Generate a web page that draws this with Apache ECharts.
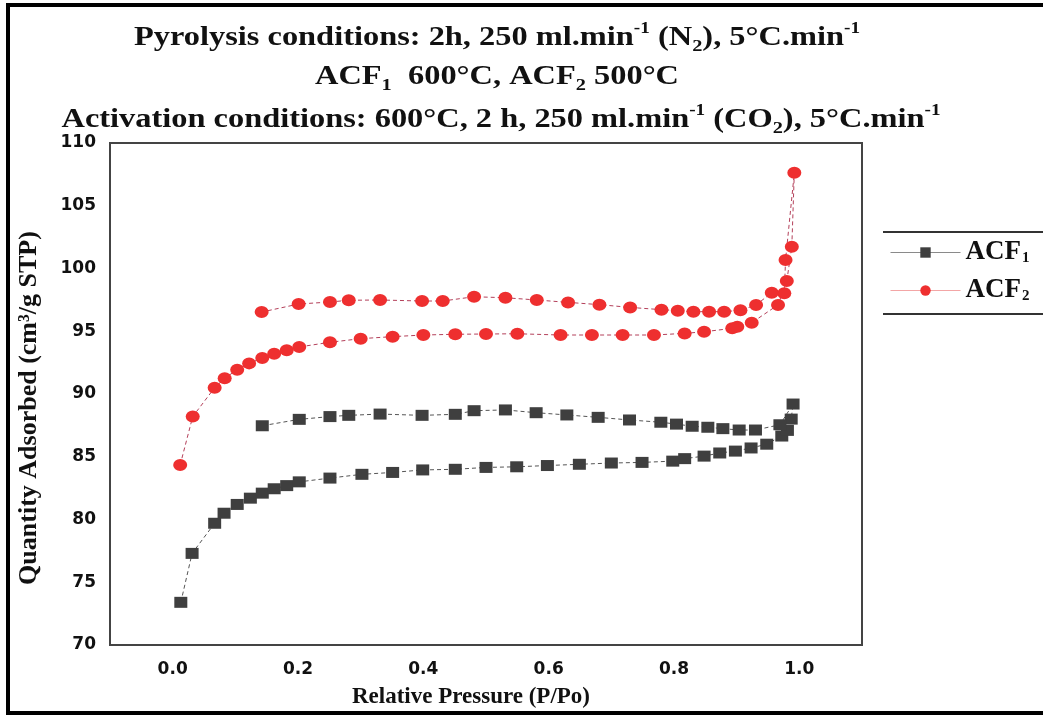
<!DOCTYPE html>
<html>
<head>
<meta charset="utf-8">
<script src="https://cdn.jsdelivr.net/npm/echarts@6/dist/echarts.min.js"></script>
<style>html,body{margin:0;padding:0;background:#fff;}#c{width:1043px;height:715px;}</style>
</head>
<body>
<div id="c"></div>
<script>
// Relative pressure (P/Po) and quantity adsorbed (cm3/g STP), adsorption then desorption branch
const acf1Pressure = [0.013,0.031,0.067,0.082,0.103,0.124,0.143,0.162,0.182,0.202,0.251,0.302,0.351,0.399,0.451,0.500,0.549,0.598,0.649,0.700,0.749,0.798,0.817,0.848,0.873,0.898,0.923,0.948,0.972,0.981,0.987,0.990,
  0.969,0.930,0.904,0.878,0.854,0.829,0.804,0.779,0.729,0.679,0.629,0.580,0.531,0.481,0.451,0.398,0.331,0.281,0.251,0.202,0.143];
const acf1Quantity = [73.4,77.3,79.7,80.5,81.2,81.7,82.1,82.45,82.7,83.0,83.3,83.6,83.75,83.95,84.0,84.15,84.2,84.3,84.4,84.5,84.55,84.65,84.85,85.05,85.3,85.45,85.7,86.0,86.65,87.1,88.0,89.2,
  87.55,87.13,87.13,87.24,87.35,87.43,87.6,87.75,87.93,88.14,88.33,88.51,88.73,88.67,88.38,88.3,88.4,88.3,88.2,87.98,87.47];
const acf2Pressure = [0.012,0.032,0.067,0.083,0.103,0.122,0.143,0.162,0.182,0.202,0.251,0.300,0.351,0.400,0.451,0.500,0.550,0.619,0.669,0.718,0.768,0.817,0.848,0.893,0.901,0.924,0.966,0.980,0.988,0.992,
  0.978,0.976,0.956,0.931,0.906,0.880,0.856,0.831,0.806,0.780,0.730,0.681,0.631,0.581,0.531,0.481,0.431,0.398,0.331,0.281,0.251,0.201,0.142];
const acf2Quantity = [84.35,88.2,90.5,91.25,91.94,92.44,92.87,93.21,93.48,93.75,94.12,94.41,94.57,94.70,94.76,94.78,94.80,94.70,94.70,94.70,94.70,94.83,94.96,95.23,95.36,95.68,97.10,99.0,101.74,107.63,
  100.68,98.02,98.07,97.10,96.67,96.56,96.56,96.56,96.64,96.72,96.90,97.12,97.30,97.49,97.67,97.75,97.41,97.41,97.49,97.47,97.33,97.17,96.53];
const xTicks = [0.0,0.2,0.4,0.6,0.8,1.0];
const seriesNames = ['ACF1','ACF2'];

const pairs = (xs, ys) => xs.map((x, i) => [x, ys[i]]);
const serif = 'Liberation Serif';
const sans = 'DejaVu Sans';

const chart = echarts.init(document.getElementById('c'), null, {renderer: 'canvas'});
const titleRich = {
  sup: {fontSize: 16, fontFamily: serif, fontWeight: 'bold', fill: '#111', verticalAlign: 'top', lineHeight: 16},
  sub: {fontSize: 17, fontFamily: serif, fontWeight: 'bold', fill: '#111', verticalAlign: 'bottom', lineHeight: 17}
};
function titleText(x, y, text) {
  return {
    type: 'text', x: x, y: y, scaleX: 1.2,
    style: {
      text: text, align: 'center', verticalAlign: 'middle',
      fontFamily: serif, fontWeight: 'bold', fontSize: 27, lineHeight: 35, fill: '#111',
      rich: titleRich
    }
  };
}
chart.setOption({
  backgroundColor: '#fff',
  animation: false,
  grid: {left: 110, right: 181, top: 143, bottom: 70, show: true, borderColor: '#444', borderWidth: 2, containLabel: false},
  xAxis: {
    type: 'value', min: -0.1, max: 1.1,
    axisLine: {show: true, onZero: false, lineStyle: {color: '#444', width: 2}},
    axisTick: {show: false},
    splitLine: {show: false},
    axisLabel: {customValues: xTicks, formatter: v => v.toFixed(1), margin: 16,
      fontFamily: sans, fontWeight: 'bold', fontSize: 17, color: '#111'}
  },
  yAxis: {
    type: 'value', min: 70, max: 110, interval: 5,
    axisLine: {show: true, onZero: false, lineStyle: {color: '#444', width: 2}},
    axisTick: {show: false},
    splitLine: {show: false},
    axisLabel: {margin: 14, fontFamily: sans, fontWeight: 'bold', fontSize: 17, color: '#111'}
  },
  legend: {
    orient: 'vertical', left: 885, top: 234, itemWidth: 70, itemHeight: 13, itemGap: 11,
    data: [
      {name: seriesNames[0], lineStyle: {color: '#8a8a8a', width: 1, type: 'solid'}},
      {name: seriesNames[1], lineStyle: {color: '#f3a6a6', width: 1, type: 'solid'}}
    ],
    formatter: n => 'ACF{s|' + n.slice(3) + '}',
    textStyle: {fontFamily: serif, fontWeight: 'bold', fontSize: 27, color: '#111',
      rich: {s: {fontFamily: serif, fontWeight: 'bold', fontSize: 15, color: '#111', verticalAlign: 'bottom', padding: [12, 0, 0, 1]}}}
  },
  graphic: [
    {type: 'polyline', shape: {points: [[1043, 5], [8, 5], [8, 713], [1043, 713]]}, style: {stroke: '#000', lineWidth: 4, fill: null}},
    {type: 'line', shape: {x1: 883, y1: 232, x2: 1043, y2: 232}, style: {stroke: '#333', lineWidth: 2}},
    {type: 'line', shape: {x1: 883, y1: 314, x2: 1043, y2: 314}, style: {stroke: '#333', lineWidth: 2}},
    titleText(497, 38, 'Pyrolysis conditions: 2h, 250 ml.min{sup|-1} (N{sub|2}), 5°C.min{sup|-1}'),
    titleText(497, 77, 'ACF{sub|1}  600°C, ACF{sub|2} 500°C'),
    titleText(501, 120, 'Activation conditions: 600°C, 2 h, 250 ml.min{sup|-1} (CO{sub|2}), 5°C.min{sup|-1}'),
    {type: 'text', x: 471, y: 697, style: {text: 'Relative Pressure (P/Po)', align: 'center', verticalAlign: 'middle',
      fontFamily: serif, fontWeight: 'bold', fontSize: 23, fill: '#111'}},
    {type: 'text', x: 29, y: 408, rotation: Math.PI / 2, style: {text: 'Quantity Adsorbed (cm³/g STP)', align: 'center', verticalAlign: 'middle',
      fontFamily: serif, fontWeight: 'bold', fontSize: 26, fill: '#111'}}
  ],
  series: [
    {
      name: seriesNames[0], type: 'line', data: pairs(acf1Pressure, acf1Quantity),
      symbol: 'rect', symbolSize: [13, 11], showSymbol: true,
      itemStyle: {color: '#3f3f3f'},
      lineStyle: {color: '#555', width: 1, type: [4, 3]}
    },
    {
      name: seriesNames[1], type: 'line', data: pairs(acf2Pressure, acf2Quantity),
      symbol: 'circle', symbolSize: [14, 12], showSymbol: true,
      itemStyle: {color: '#ee2f2f'},
      lineStyle: {color: '#b4405a', width: 1, type: [4, 3]}
    }
  ]
});
</script>
</body>
</html>
